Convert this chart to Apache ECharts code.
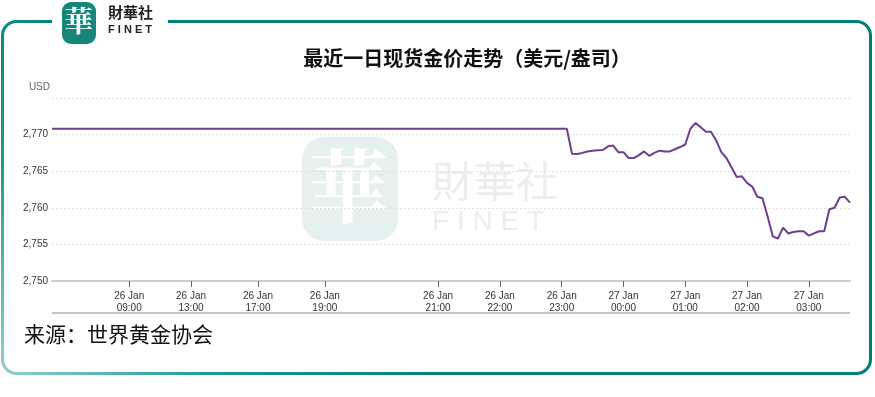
<!DOCTYPE html>
<html>
<head>
  <meta charset="UTF-8">
  <title>最近一日现货金价走势</title>
  <script src="https://cdn.jsdelivr.net/npm/echarts@6/dist/echarts.min.js"></script>
  <style>
    html, body { margin: 0; padding: 0; background: #fff; }
  </style>
</head>
<body>
  <div id="main" style="width: 875px;height:397px;"></div>
  <script type="text/javascript">
    // 横轴按5分钟一格计数（周末休市段被压缩）
    var tickSlots = [15, 27, 40, 53, 75, 87, 99, 111, 123, 135, 147];
    var tickLabels = ['26 Jan\n09:00', '26 Jan\n13:00', '26 Jan\n17:00', '26 Jan\n19:00', '26 Jan\n21:00',
      '26 Jan\n22:00', '26 Jan\n23:00', '27 Jan\n00:00', '27 Jan\n01:00', '27 Jan\n02:00', '27 Jan\n03:00'];

    // 休市段：首尾两点
    var flatSlots = [0, 100];
    var flatValues = [2770.8, 2770.8];

    // 开市后每5分钟一个点，从第101格开始
    var tradeStart = 101;
    var tradeValues = [
      2767.4, 2767.35, 2767.5, 2767.7, 2767.8, 2767.85, 2767.9, 2768.4, 2768.5, 2767.6,
      2767.6, 2766.8, 2766.8, 2767.2, 2767.7, 2767.1, 2767.5, 2767.8, 2767.7, 2767.7,
      2768.0, 2768.3, 2768.65, 2770.8, 2771.6, 2771.0, 2770.4, 2770.4, 2769.2, 2767.6,
      2766.8, 2765.5, 2764.2, 2764.3, 2763.4, 2762.9, 2761.5, 2761.3, 2758.8, 2756.1,
      2755.8, 2757.3, 2756.5, 2756.7, 2756.8, 2756.8, 2756.2, 2756.5, 2756.8, 2756.8,
      2759.8, 2760.0, 2761.4, 2761.5, 2760.7
    ];

    var seriesData = [];
    for (var i = 0; i < flatSlots.length; i++) {
      seriesData.push([flatSlots[i], flatValues[i]]);
    }
    for (var j = 0; j < tradeValues.length; j++) {
      seriesData.push([tradeStart + j, tradeValues[j]]);
    }

    var myChart = echarts.init(document.getElementById('main'));

    var cjk = '"Noto Sans CJK SC", "Noto Sans", sans-serif';
    var latin = '"Liberation Sans", Arial, sans-serif';

    var frameColor = new echarts.graphic.LinearGradient(2, 374, 220, 160, [
      { offset: 0, color: '#93cfcb' },
      { offset: 0.5, color: '#1a9a90' },
      { offset: 1, color: '#007f74' }
    ], true);

    var option = {
      animation: false,
      backgroundColor: '#fff',
      title: {
        text: '最近一日现货金价走势（美元/盎司）',
        left: 462,
        textAlign: 'center',
        top: 43,
        textStyle: { fontFamily: cjk, fontSize: 20, fontWeight: 'bold', color: '#111' }
      },
      grid: { left: 52, right: 25, top: 98, bottom: 116 },
      xAxis: {
        type: 'value',
        min: 0,
        max: 155,
        axisLine: { show: true, onZero: false, lineStyle: { color: '#cccccc', width: 2 } },
        axisTick: {
          show: true,
          customValues: tickSlots,
          length: 6,
          lineStyle: { color: '#666', width: 1 }
        },
        axisLabel: {
          customValues: tickSlots,
          formatter: function (v) {
            var k = tickSlots.indexOf(v);
            return k >= 0 ? tickLabels[k] : '';
          },
          fontFamily: latin,
          fontSize: 10,
          color: '#333',
          lineHeight: 12,
          margin: 9
        },
        splitLine: { show: false }
      },
      yAxis: {
        type: 'value',
        min: 2750,
        max: 2775,
        interval: 5,
        name: 'USD',
        nameGap: 6,
        nameTextStyle: { fontFamily: latin, fontSize: 10, color: '#666', align: 'right', padding: [0, 2, 0, 0] },
        axisLine: { show: false },
        axisTick: { show: false },
        axisLabel: {
          fontFamily: latin,
          fontSize: 10,
          color: '#333',
          margin: 4,
          formatter: function (v) {
            if (v === 2775) return '';
            return String(v).replace(/(\d)(?=(\d{3})+$)/, '$1,');
          }
        },
        splitLine: { lineStyle: { color: '#e2e2e2', type: [2, 2], width: 1 } }
      },
      graphic: [
        // 外框
        {
          type: 'rect', z: 0,
          shape: { x: 2.5, y: 21.5, width: 868, height: 352, r: 14 },
          style: { fill: 'none', stroke: frameColor, lineWidth: 3 }
        },
        { type: 'rect', z: 1, shape: { x: 52, y: 15, width: 116, height: 12 }, style: { fill: '#fff' } },
        // 左上角标志
        {
          type: 'rect', z: 2,
          shape: { x: 62, y: 2, width: 34, height: 42, r: 9 },
          style: { fill: '#17857a' }
        },
        {
          type: 'text', z: 3, left: 64, top: 6,
          style: { text: '華', fill: '#fff', font: 'bold 29px "Noto Serif CJK SC", "Noto Sans CJK SC", serif' }
        },
        {
          type: 'text', z: 3, left: 108, top: 5,
          style: { text: '財華社', fill: '#222', font: 'bold 15px ' + cjk }
        },
        {
          type: 'text', z: 3, left: 108, top: 24,
          style: { text: 'F I N E T', fill: '#222', font: 'bold 11px ' + latin }
        },
        // 水印
        {
          type: 'rect', z: -1, silent: true,
          shape: { x: 302, y: 137, width: 96, height: 104, r: 22 },
          style: { fill: '#e6f1ef' }
        },
        {
          type: 'text', z: -1, left: 308, top: 146, silent: true,
          style: { text: '華', fill: '#ffffff', font: 'bold 80px "Noto Serif CJK SC", "Noto Sans CJK SC", serif' }
        },
        {
          type: 'text', z: -1, left: 432, top: 160, silent: true,
          style: { text: '財華社', fill: '#ededed', font: '42px ' + cjk }
        },
        {
          type: 'text', z: -1, left: 432, top: 208, silent: true,
          style: { text: 'F I N E T', fill: '#ededed', font: '28px ' + latin }
        },
        // 底部分隔线
        {
          type: 'line', z: 2,
          shape: { x1: 52, y1: 313, x2: 850, y2: 313 },
          style: { stroke: '#c9c5bd', lineWidth: 2 }
        },
        // 来源
        {
          type: 'text', z: 3, left: 24, top: 324,
          style: { text: '来源：世界黄金协会', fill: '#111', font: '21px ' + cjk }
        }
      ],
      series: [{
        name: '金价',
        type: 'line',
        data: seriesData,
        showSymbol: false,
        lineStyle: { color: '#6e3f8d', width: 2 },
        itemStyle: { color: '#6e3f8d' }
      }]
    };

    myChart.setOption(option);
  </script>
</body>
</html>
